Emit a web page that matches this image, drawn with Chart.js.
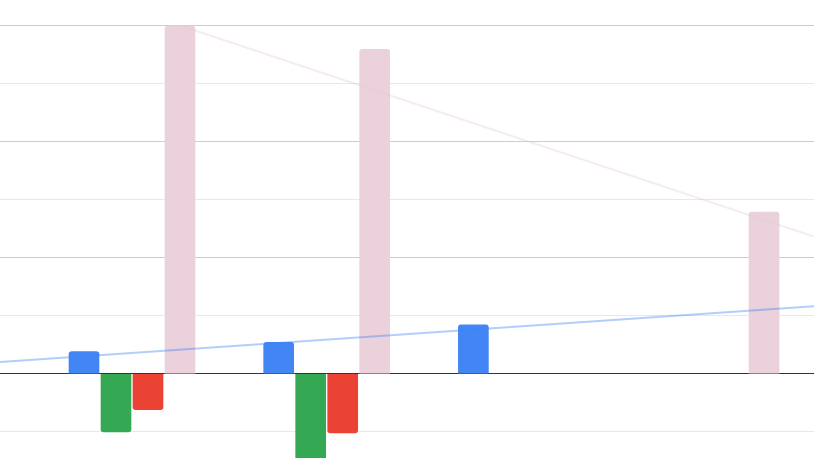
<!DOCTYPE html>
<html lang="en">
<head>
   <meta charset="UTF-8">
   <title>Grouped bars with trendlines</title>
   <script src="https://cdn.jsdelivr.net/npm/chart.js@4/dist/chart.umd.min.js"></script>
   <style>
      html, body { margin: 0; padding: 0; background: #fff; overflow: hidden; }
      #wrap { width: 814px; height: 492px; }
   </style>
</head>
<body>
   <div id="wrap">
      <canvas id="myChart" width="814" height="492"></canvas>
   </div>
   <script>
      // values (one entry per category)
      const categories = ['A', 'B', 'C', 'D'];
      const blueVals  = [1.9, 2.7, 4.2, null];
      const greenVals = [-5.0, -8.5, null, null];
      const redVals   = [-3.1, -5.1, null, null];
      const pinkVals  = [29.9, 27.9, null, 13.9];
      const yTicks = [-10, -5, 0, 5, 10, 15, 20, 25, 30];

      // visible window of the category axis (categories sit at 1..4)
      const xMin = 0.322, xMax = 4.503;

      const toPoints = (vals) => vals.map((v, i) => ({ x: i + 1, y: v }));

      // least squares line through the non-empty points, like a sheet trendline
      const trend = (vals) => {
         const pts = vals.map((v, i) => [i + 1, v]).filter(p => p[1] !== null);
         const n = pts.length;
         const mx = pts.reduce((s, p) => s + p[0], 0) / n;
         const my = pts.reduce((s, p) => s + p[1], 0) / n;
         let sxy = 0, sxx = 0;
         pts.forEach(p => { sxy += (p[0] - mx) * (p[1] - my); sxx += (p[0] - mx) ** 2; });
         const b = sxy / sxx;
         return [xMin, xMax].map(x => ({ x: x, y: my + b * (x - mx) }));
      };

      const bar = (label, vals, color) => ({
         type: 'bar',
         label: label,
         data: toPoints(vals),
         backgroundColor: color,
         barThickness: 32,
         maxBarThickness: 30,
         borderRadius: 3,
         order: 1
      });

      const line = (label, vals, color) => ({
         type: 'line',
         label: label,
         data: trend(vals),
         borderColor: color,
         borderWidth: 2,
         pointRadius: 0,
         fill: false,
         order: 0
      });

      const myChart = new Chart(document.getElementById('myChart'), {
         type: 'bar',
         data: {
            datasets: [
               bar('Serie 1', blueVals, '#4285f4'),
               bar('Serie 2', greenVals, '#34a853'),
               bar('Serie 3', redVals, '#ea4335'),
               bar('Serie 4', pinkVals, '#ead1dc'),
               line('Tendencia 1', blueVals, 'rgba(66,133,244,0.4)'),
               line('Tendencia 4', pinkVals, 'rgba(228,200,212,0.35)')
            ]
         },
         options: {
            responsive: false,
            animation: false,
            layout: { padding: { top: 25, bottom: 2, left: 0, right: 0 } },
            plugins: {
               legend: { display: false },
               tooltip: { enabled: false }
            },
            scales: {
               x: {
                  type: 'linear',
                  display: false,
                  offset: false,
                  min: xMin,
                  max: xMax
               },
               y: {
                  min: -10,
                  max: 30,
                  afterBuildTicks: (s) => { s.ticks = yTicks.map(v => ({ value: v })); },
                  border: { display: false },
                  ticks: { display: false },
                  grid: {
                     drawTicks: false,
                     lineWidth: 1,
                     color: (ctx) => {
                        const v = ctx.tick.value;
                        if (v === 0) return '#333333';
                        return v % 10 === 0 ? '#cccccc' : '#e8e8e8';
                     }
                  }
               }
            }
         }
      });
   </script>
</body>
</html>
